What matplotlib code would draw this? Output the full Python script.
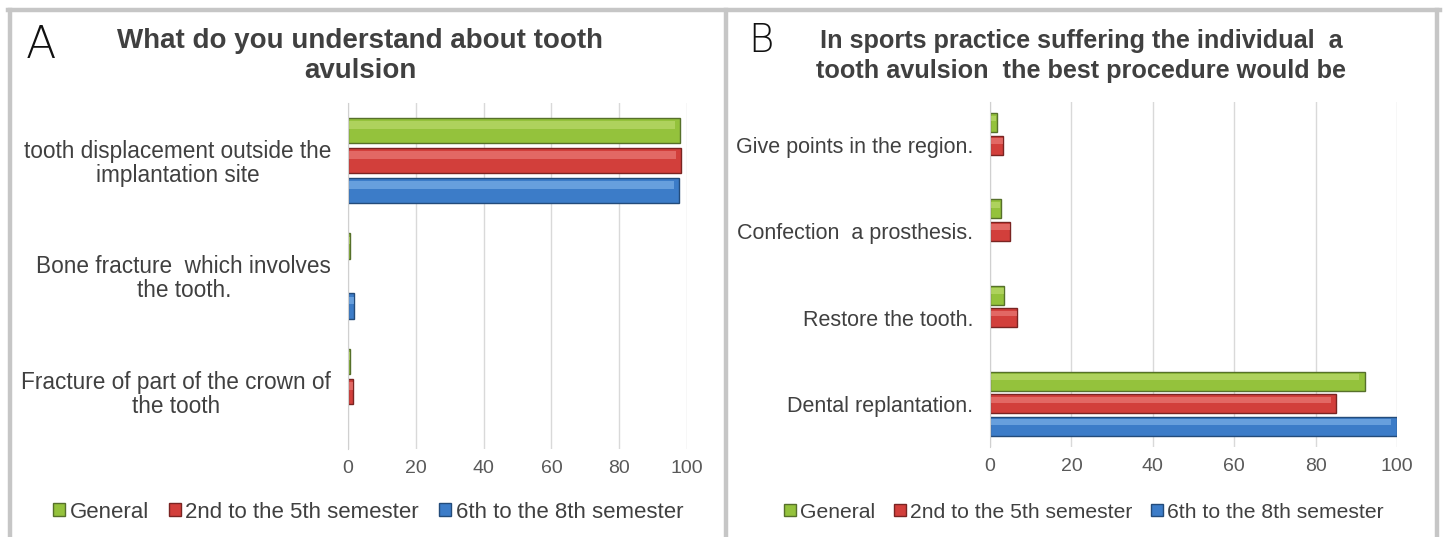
import numpy as np
import matplotlib.pyplot as plt
from matplotlib.lines import Line2D

plt.rcParams['font.family'] = ['Liberation Sans', 'DejaVu Sans']

# Datos panel A
cats_a = ["tooth displacement outside the\nimplantation site",
          "Bone fracture  which involves\nthe tooth.",
          "Fracture of part of the crown of\nthe tooth"]
general_a = [98.0, 0.5, 0.5]
sem25_a = [98.3, 0.0, 1.5]
sem68_a = [97.7, 1.8, 0.0]

# Datos panel B
cats_b = ["Give points in the region.", "Confection  a prosthesis.",
          "Restore the tooth.", "Dental replantation."]
general_b = [1.6, 2.6, 3.5, 92.1]
sem25_b = [3.3, 4.9, 6.7, 85.0]
sem68_b = [0.0, 0.0, 0.0, 100.0]

series_names = ["General", "2nd to the 5th semester", "6th to the 8th semester"]
colors = ["#94C23C", "#D23F3B", "#3C7CC8"]
edges = ["#56702A", "#7A2422", "#234B7A"]
lights = ["#C4E07A", "#F08A86", "#8CBDF0"]

W, H = 1448, 537
fig = plt.figure(figsize=(W / 100, H / 100), dpi=100)
fig.patch.set_facecolor("white")


def px_axes(l, r, t, b):
    return fig.add_axes([l / W, 1 - b / H, (r - l) / W, (b - t) / H])


def draw_panel(ax, cats, series, labsize):
    y = np.arange(len(cats))
    pitch, h = 0.26, 0.22
    for i, vals in enumerate(series):
        yy = y + (i - 1) * pitch
        vals = np.array(vals)
        mask = vals > 0
        ax.barh(yy[mask], vals[mask], height=h, color=colors[i],
                edgecolor=edges[i], linewidth=1.0, zorder=3)
        # brillo superior para dar relieve
        ax.barh(yy[mask] - h * 0.22, vals[mask] * 0.985, height=h * 0.3,
                color=lights[i], alpha=0.55, linewidth=0, zorder=4)
    ax.set_ylim(len(cats) - 0.5, -0.5)
    ax.set_xlim(0, 100)
    ax.set_xticks(range(0, 101, 20))
    ax.set_yticks(y)
    ax.set_yticklabels(cats, fontsize=labsize, color="#404040",
                       multialignment="center", linespacing=1.05)
    ax.tick_params(axis="x", labelsize=14, colors="#595959", length=0, pad=8)
    ax.tick_params(axis="y", length=0, pad=12)
    ax.grid(axis="x", color="#D9D9D9", linewidth=1, zorder=0)
    for s in ["top", "right", "bottom"]:
        ax.spines[s].set_visible(False)
    ax.spines["left"].set_color("#D0D0D0")
    ax.spines["left"].set_zorder(5)


ax_a = px_axes(348, 687, 103, 449)
draw_panel(ax_a, cats_a, [general_a, sem25_a, sem68_a], 16.3)
ax_b = px_axes(990, 1397, 102, 447)
draw_panel(ax_b, cats_b, [general_b, sem25_b, sem68_b], 15.5)

# Títulos
fig.text(360 / W, 1 - 56 / H, "What do you understand about tooth\navulsion",
         ha="center", va="center", fontsize=20, fontweight="bold",
         color="#404040", linespacing=1.18)
fig.text(1081 / W, 1 - 56 / H,
         "In sports practice suffering the individual  a\ntooth avulsion  the best procedure would be",
         ha="center", va="center", fontsize=18.2, fontweight="bold",
         color="#404040", linespacing=1.29)
fig.text(41 / W, 1 - 46 / H, "A", ha="center", va="center", fontsize=32,
         family="DejaVu Sans", fontweight="light", color="#111111")
fig.text(761 / W, 1 - 41 / H, "B", ha="center", va="center", fontsize=28,
         family="DejaVu Sans", fontweight="light", color="#111111")

# Leyendas
for cx, fs in ((368, 16), (1084, 15.2)):
    handles = [plt.Rectangle((0, 0), 1, 1, facecolor=colors[i], edgecolor=edges[i])
               for i in range(3)]
    fig.legend(handles, series_names, loc="center", bbox_to_anchor=(cx / W, 1 - 512 / H),
               ncol=3, frameon=False, fontsize=fs, handlelength=0.55, handleheight=0.55,
               handletextpad=0.2, columnspacing=0.9, labelcolor="#404040")

# Marco gris
frame = "#C6C6C6"
for xs, ys in [((8 / W, 1440 / W), (1 - 10 / H, 1 - 10 / H)),
               ((10 / W, 10 / W), (0, 1 - 10 / H)),
               ((1437 / W, 1437 / W), (0, 1 - 10 / H)),
               ((726 / W, 726 / W), (0, 1 - 10 / H))]:
    fig.add_artist(Line2D(xs, ys, color=frame, linewidth=3.2))

fig.savefig("out.png", dpi=100, facecolor="white")
